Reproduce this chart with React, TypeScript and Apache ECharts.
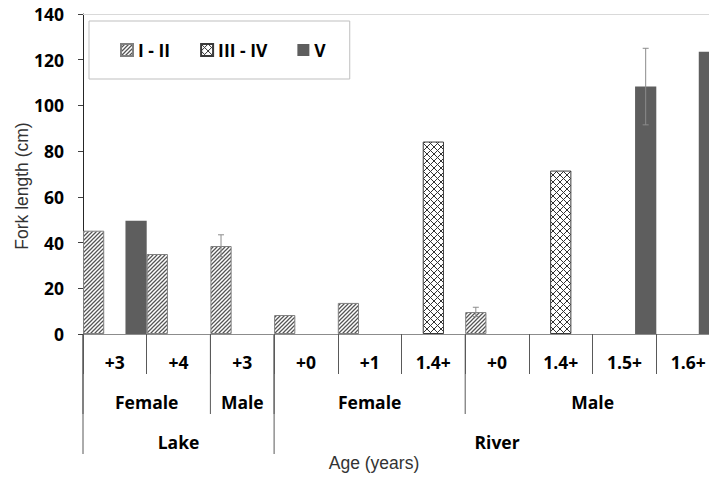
import React, { useEffect, useRef } from 'react';
import * as echarts from 'echarts';

// ---- data ----
const ageLabels = ['+3', '+4', '+3', '+0', '+1', '1.4+', '+0', '1.4+', '1.5+', '1.6+'];
const sexLabels = ['Female', 'Male', 'Female', 'Male'];
const sexSpans = [2, 1, 3, 4];
const siteLabels = ['Lake', 'River'];
const siteSpans = [3, 7];
const seriesNames = ['I - II', 'III - IV', 'V'];
const stageI_II = [45.2, 35.0, 38.5, 8.3, 13.6, null, 9.6, null, null, null];
const stageIII_IV = [null, null, null, null, null, 84.2, null, 71.5, null, null];
const stageV = [49.5, null, null, null, null, null, null, null, 108.3, 123.5];
// [category index, lower, upper, series index]
const errorBars = [
  [2, 33.8, 43.4, 0],
  [6, 7.6, 11.7, 0],
  [8, 91.5, 125.0, 2],
];
const yMin = 0;
const yMax = 140;
const yStep = 20;

const categories = ageLabels.map((a, i) => `${i}|${a}`);

const BOLD = '"Open Sans", "DejaVu Sans", sans-serif';
const REG = '"Liberation Sans", Arial, sans-serif';

function makePattern(size: number, draw: (ctx: CanvasRenderingContext2D, s: number) => void) {
  const c = document.createElement('canvas');
  c.width = size;
  c.height = size;
  const ctx = c.getContext('2d') as CanvasRenderingContext2D;
  ctx.fillStyle = '#ffffff';
  ctx.fillRect(0, 0, size, size);
  draw(ctx, size);
  return { image: c.toDataURL(), repeat: 'repeat', imageWidth: size, imageHeight: size } as any;
}

export default function App() {
  const ref = useRef<HTMLDivElement>(null);
  useEffect(() => {
    if (!ref.current) return;
    const chart = echarts.init(ref.current, null, { renderer: 'svg' });

    const hatch = makePattern(4, (ctx, s) => {
      ctx.strokeStyle = '#555555';
      ctx.lineWidth = 1.25;
      ctx.beginPath();
      ctx.moveTo(-1, s + 1); ctx.lineTo(s + 1, -1);
      ctx.moveTo(-1, 1); ctx.lineTo(1, -1);
      ctx.moveTo(s - 1, s + 1); ctx.lineTo(s + 1, s - 1);
      ctx.stroke();
    });
    const cross = makePattern(7, (ctx, s) => {
      ctx.strokeStyle = '#333333';
      ctx.lineWidth = 1;
      ctx.beginPath();
      ctx.moveTo(-1, -1); ctx.lineTo(s + 1, s + 1);
      ctx.moveTo(-1, s + 1); ctx.lineTo(s + 1, -1);
      ctx.stroke();
    });

    const option: any = {
      animation: false,
      backgroundColor: '#ffffff',
      grid: { left: 83, right: 0, top: 14, bottom: 144, containLabel: false },
      legend: {
        data: seriesNames,
        left: 89,
        top: 21,
        padding: [20, 24, 20, 31],
        itemGap: 30,
        itemWidth: 12,
        itemHeight: 12,
        icon: 'rect',
        borderColor: '#bfbfbf',
        borderWidth: 1,
        textStyle: { fontFamily: BOLD, fontWeight: 'bold', fontSize: 17.5, color: '#000' },
      },
      xAxis: [
        {
          type: 'category',
          data: categories,
          axisLine: { show: true, lineStyle: { color: '#8c8c8c', width: 1 } },
          axisTick: { show: true, length: 40, interval: 0, lineStyle: { color: '#595959' } },
          axisLabel: {
            interval: 0,
            margin: 18,
            lineHeight: 20,
            fontFamily: BOLD,
            fontWeight: 'bold',
            fontSize: 17.5,
            color: '#000',
            formatter: (v: string) => v.split('|')[1],
          },
          splitLine: { show: false },
        },
        {
          type: 'category',
          position: 'top',
          data: categories,
          axisLine: { show: true, lineStyle: { color: '#d9d9d9', width: 1 } },
          axisTick: { show: false },
          axisLabel: { show: false },
        },
      ],
      yAxis: {
        type: 'value',
        min: yMin,
        max: yMax,
        interval: yStep,
        axisLine: { show: true, lineStyle: { color: '#262626', width: 1 } },
        axisTick: { show: true, length: 5, lineStyle: { color: '#404040' } },
        axisLabel: {
          margin: 19,
          fontFamily: BOLD,
          fontWeight: 'bold',
          fontSize: 17.5,
          color: '#000',
        },
        splitLine: { show: false },
      },
      series: [
        {
          name: seriesNames[0],
          type: 'bar',
          data: stageI_II,
          barGap: '0%',
          barCategoryGap: '0%',
          itemStyle: { color: hatch, borderColor: '#808080', borderWidth: 1 },
        },
        {
          name: seriesNames[1],
          type: 'bar',
          data: stageIII_IV,
          barGap: '0%',
          barCategoryGap: '0%',
          itemStyle: { color: cross, borderColor: '#3a3a3a', borderWidth: 1 },
        },
        {
          name: seriesNames[2],
          type: 'bar',
          data: stageV,
          barGap: '0%',
          barCategoryGap: '0%',
          itemStyle: { color: '#5e5e5e' },
        },
        {
          name: 'error',
          type: 'custom',
          data: errorBars,
          z: 10,
          silent: true,
          encode: { x: 0, y: [1, 2] },
          renderItem: (params: any, api: any) => {
            const cat = api.value(0);
            const lo = api.value(1);
            const hi = api.value(2);
            const s = api.value(3);
            const bw = api.size([1, 0])[0];
            const p1 = api.coord([cat, lo]);
            const p2 = api.coord([cat, hi]);
            const cx = p1[0] + ((s - 1) * bw) / 3;
            const h = 3;
            const style = { stroke: '#8c8c8c', lineWidth: 1 };
            return {
              type: 'group',
              children: [
                { type: 'line', shape: { x1: cx, y1: p1[1], x2: cx, y2: p2[1] }, style },
                { type: 'line', shape: { x1: cx - h, y1: p1[1], x2: cx + h, y2: p1[1] }, style },
                { type: 'line', shape: { x1: cx - h, y1: p2[1], x2: cx + h, y2: p2[1] }, style },
              ],
            };
          },
        },
      ],
    };
    chart.setOption(option);

    // hierarchical category labels, positioned from the axis scale
    const c0 = chart.convertToPixel({ xAxisIndex: 0 }, 0) as number;
    const c1 = chart.convertToPixel({ xAxisIndex: 0 }, 1) as number;
    const bw = c1 - c0;
    const boundary = (k: number) => c0 - bw / 2 + k * bw;
    const y0 = chart.convertToPixel({ yAxisIndex: 0 }, 0) as number;
    const lineColor = '#595959';
    const graphics: any[] = [];
    const textStyle = (text: string, x: number, y: number) => ({
      type: 'text',
      x,
      y,
      silent: true,
      style: {
        text,
        align: 'center',
        verticalAlign: 'middle',
        fontFamily: BOLD,
        fontWeight: 'bold',
        fontSize: 17.5,
        fill: '#000',
      },
    });
    let k = 0;
    sexLabels.forEach((name, i) => {
      const a = boundary(k);
      const b = boundary(k + sexSpans[i]);
      graphics.push(textStyle(name, (a + b) / 2, y0 + 68));
      graphics.push({
        type: 'line',
        silent: true,
        shape: { x1: a, y1: y0, x2: a, y2: y0 + 80 },
        style: { stroke: lineColor, lineWidth: 1 },
      });
      k += sexSpans[i];
    });
    k = 0;
    siteLabels.forEach((name, i) => {
      const a = boundary(k);
      const b = boundary(k + siteSpans[i]);
      graphics.push(textStyle(name, (a + b) / 2, y0 + 108));
      graphics.push({
        type: 'line',
        silent: true,
        shape: { x1: a, y1: y0, x2: a, y2: y0 + 120 },
        style: { stroke: lineColor, lineWidth: 1 },
      });
      k += siteSpans[i];
    });
    graphics.push({
      type: 'text',
      x: 374,
      y: 463,
      silent: true,
      style: {
        text: 'Age (years)',
        align: 'center',
        verticalAlign: 'middle',
        fontFamily: REG,
        fontSize: 17.5,
        fill: '#333',
      },
    });
    graphics.push({
      type: 'text',
      x: 21.5,
      y: 186,
      rotation: Math.PI / 2,
      silent: true,
      style: {
        text: 'Fork length (cm)',
        align: 'center',
        verticalAlign: 'middle',
        fontFamily: REG,
        fontSize: 17.5,
        fill: '#333',
      },
    });
    chart.setOption({ graphic: graphics });

    return () => chart.dispose();
  }, []);
  return (
    <div
      ref={ref}
      style={{ position: 'fixed', left: 0, top: 0, width: 720, height: 478, background: '#fff' }}
    />
  );
}
